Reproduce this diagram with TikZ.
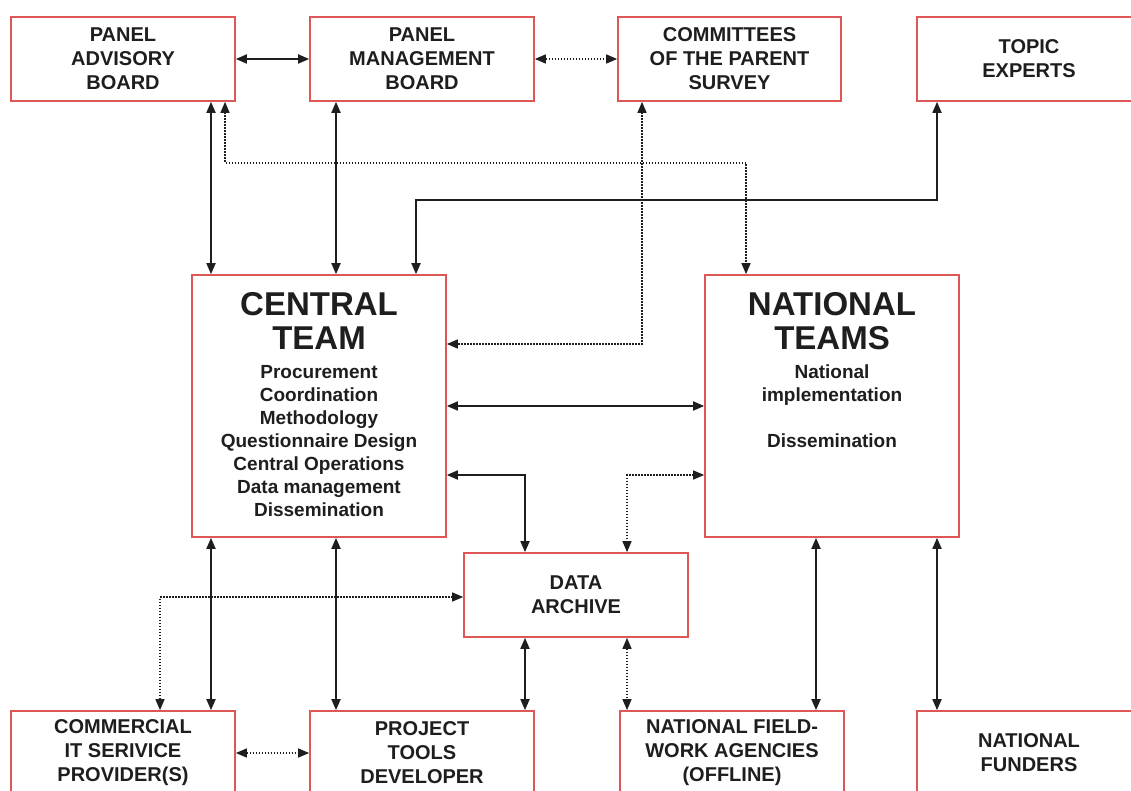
\documentclass[tikz,border=0pt]{standalone}
\usepackage{fontspec}
\setmainfont{Liberation Sans}
\usetikzlibrary{arrows.meta}
\definecolor{boxred}{RGB}{222,86,86}
\definecolor{ink}{RGB}{30,30,30}
\begin{document}
\begin{tikzpicture}[x=1pt,y=-1pt,
  box/.style={draw=boxred, line width=1.7pt, fill=white, minimum width=224pt, minimum height=84pt,
    inner sep=0pt, align=center, text=ink, font=\bfseries\fontsize{20}{24}\selectfont},
  bigbox/.style={box, minimum width=254pt, minimum height=262pt},
  bigtitle/.style={anchor=north, inner sep=0pt, align=center, text=ink, font=\bfseries\fontsize{33}{34}\selectfont},
  items/.style={anchor=north, inner sep=0pt, align=center, text=ink, font=\bfseries\fontsize{19}{23}\selectfont},
  conn/.style={draw=ink, line width=1.8pt, {Triangle[length=11pt,width=9pt]}-{Triangle[length=11pt,width=9pt]}},
  dotconn/.style={conn, line width=1.4pt, dash pattern=on 1.4pt off 1.6pt}]
\useasboundingbox (0,0) rectangle (1131,791);
\clip (0,0) rectangle (1131,791);
\fill[white] (0,0) rectangle (1131,791);

% coordinates for connector lanes
\coordinate (xA) at (211,0);
\coordinate (xB) at (225,0);
\coordinate (xC) at (336,0);
\coordinate (xD) at (416,0);
\coordinate (xE) at (642,0);
\coordinate (xF) at (746,0);
\coordinate (xG) at (937,0);
\coordinate (xH) at (525,0);
\coordinate (xI) at (627,0);
\coordinate (xJ) at (160,0);
\coordinate (xK) at (816,0);
\coordinate (yA) at (0,163);
\coordinate (yB) at (0,200);
\coordinate (yC) at (0,344);
\coordinate (yE) at (0,475);
\coordinate (yF) at (0,597);

% top row
\node[box] (adv) at (123,59) {PANEL\\ADVISORY\\BOARD};
\node[box] (mgmt) at (422,59) {PANEL\\MANAGEMENT\\BOARD};
\node[box, minimum width=223pt] (comm) at (729.5,59) {COMMITTEES\\OF THE PARENT\\SURVEY};
\node[box] (topic) at (1029,59) {TOPIC\\EXPERTS};

% middle
\node[bigbox] (central) at (319,406) {};
\node[bigtitle] (centraltitle) at (319,292) {CENTRAL\\TEAM};
\node[items] (centralitems) at (319,365) {Procurement\\Coordination\\Methodology\\Questionnaire Design\\Central Operations\\Data management\\Dissemination};

\node[bigbox] (national) at (832,406) {};
\node[bigtitle] (nationaltitle) at (832,292) {NATIONAL\\TEAMS};
\node[items] (nationalitems) at (832,365) {National\\implementation\\[23pt]Dissemination};

\node[box] (archive) at (576,595) {DATA\\ARCHIVE};

% bottom row
\node[box] (commercial) at (123,753) {COMMERCIAL\\IT SERIVICE\\PROVIDER(S)};
\node[box] (project) at (422,753) {PROJECT\\TOOLS\\DEVELOPER};
\node[box] (field) at (732,753) {NATIONAL FIELD-\\WORK AGENCIES\\(OFFLINE)};
\node[box] (funders) at (1029,753) {NATIONAL\\FUNDERS};

% connectors
\draw[conn] (adv.east) -- (mgmt.west);
\draw[dotconn] (mgmt.east) -- (comm.west);
\draw[conn] (adv.south -| xA) -- (central.north -| xA);
\draw[dotconn] (adv.south -| xB) -- (xB |- yA) -- (xF |- yA) -- (national.north -| xF);
\draw[conn] (mgmt.south -| xC) -- (central.north -| xC);
\draw[dotconn] (comm.south -| xE) |- (central.east |- yC);
\draw[conn] (topic.south -| xG) -- (xG |- yB) -- (xD |- yB) -- (central.north -| xD);
\draw[conn] (central.east) -- (national.west);
\draw[conn] (central.east |- yE) -| (archive.north -| xH);
\draw[dotconn] (national.west |- yE) -| (archive.north -| xI);
\draw[conn] (central.south -| xA) -- (commercial.north -| xA);
\draw[conn] (central.south -| xC) -- (project.north -| xC);
\draw[dotconn] (archive.west |- yF) -| (commercial.north -| xJ);
\draw[dotconn] (commercial.east) -- (project.west);
\draw[conn] (archive.south -| xH) -- (project.north -| xH);
\draw[dotconn] (archive.south -| xI) -- (field.north -| xI);
\draw[conn] (national.south -| xK) -- (field.north -| xK);
\draw[conn] (national.south -| xG) -- (funders.north -| xG);
\end{tikzpicture}
\end{document}
